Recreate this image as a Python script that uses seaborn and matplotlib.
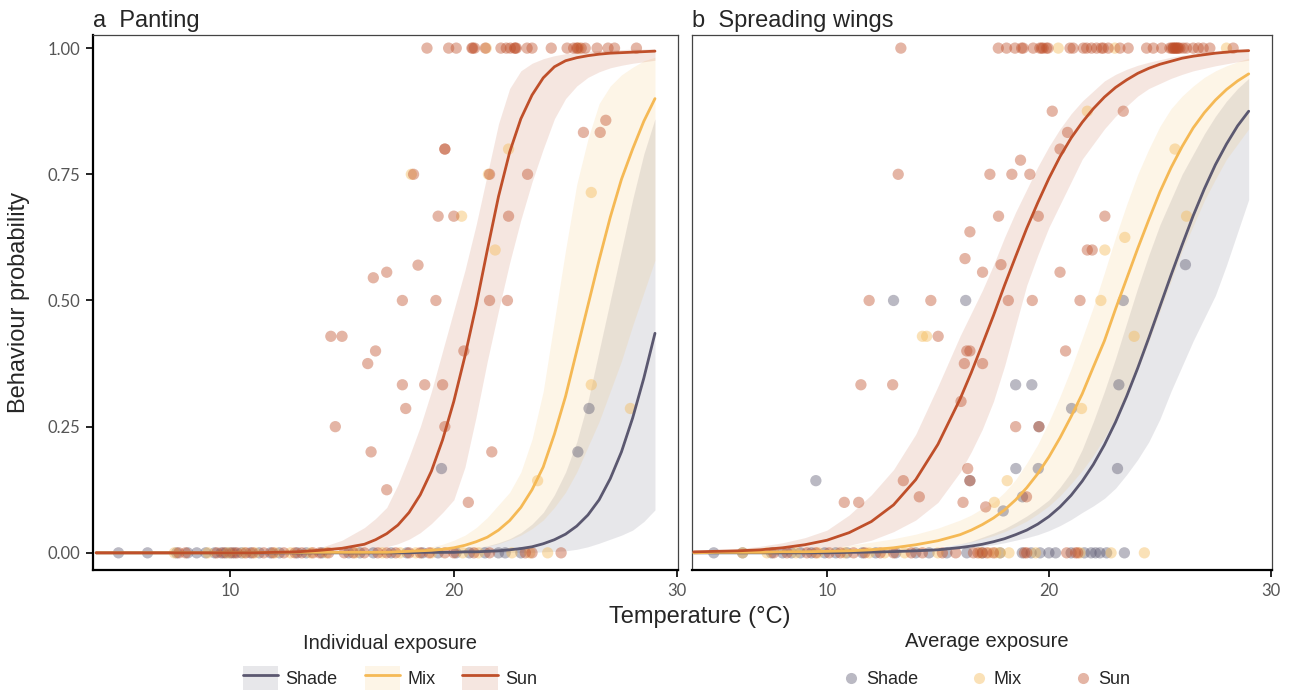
import pandas as pd
import seaborn as sns
import matplotlib.pyplot as plt
from matplotlib.patches import Patch
from matplotlib.lines import Line2D

# ---- fitted curves + 95% ribbons
# (whole degrees up to 16 C, then every half degree where the curves bend)
temps = [4, 5, 6, 7, 8, 9, 10, 11, 12, 13, 14, 15, 16,
         16.5, 17, 17.5, 18, 18.5, 19, 19.5, 20, 20.5, 21, 21.5, 22, 22.5,
         23, 23.5, 24, 24.5, 25, 25.5, 26, 26.5, 27, 27.5, 28, 28.5, 29]

# panel a: panting
pant_shade_fit = [0, 0, 0, 0, 0, 0, 0, 0, 0, 0, 0, 0, 0,
                  0, 0, 0, 0, 0.001, 0.001, 0.001, 0.001, 0.002, 0.002, 0.003, 0.004, 0.006,
                  0.0085, 0.012, 0.018, 0.026, 0.037, 0.053, 0.075, 0.105, 0.147, 0.20, 0.267, 0.346, 0.435]
pant_shade_lo = [0, 0, 0, 0, 0, 0, 0, 0, 0, 0, 0, 0, 0,
                 0, 0, 0, 0, 0, 0, 0, 0, 0, 0, 0, 0.001, 0.001,
                 0.001, 0.001, 0.002, 0.003, 0.004, 0.007, 0.012, 0.019, 0.027, 0.035, 0.045, 0.062, 0.085]
pant_shade_hi = [0, 0, 0, 0, 0, 0, 0, 0, 0, 0, 0, 0, 0,
                 0.001, 0.001, 0.0015, 0.002, 0.0025, 0.003, 0.004, 0.005, 0.007, 0.01, 0.014, 0.02, 0.028,
                 0.04, 0.057, 0.08, 0.115, 0.16, 0.22, 0.30, 0.40, 0.50, 0.60, 0.70, 0.79, 0.86]
pant_mix_fit = [0, 0, 0, 0, 0, 0, 0, 0, 0.001, 0.001, 0.001, 0.001, 0.001,
                0.001, 0.001, 0.002, 0.003, 0.004, 0.005, 0.007, 0.01, 0.015, 0.022, 0.031, 0.045, 0.064,
                0.09, 0.125, 0.17, 0.235, 0.31, 0.40, 0.49, 0.58, 0.665, 0.74, 0.80, 0.855, 0.90]
pant_mix_lo = [0, 0, 0, 0, 0, 0, 0, 0, 0, 0, 0, 0, 0,
               0, 0, 0.001, 0.001, 0.0015, 0.002, 0.003, 0.004, 0.006, 0.009, 0.013, 0.018, 0.026,
               0.035, 0.048, 0.065, 0.09, 0.12, 0.16, 0.21, 0.26, 0.32, 0.38, 0.45, 0.515, 0.58]
pant_mix_hi = [0, 0, 0, 0, 0, 0, 0, 0, 0, 0, 0.001, 0.001, 0.001,
               0.002, 0.003, 0.004, 0.006, 0.009, 0.012, 0.017, 0.025, 0.035, 0.05, 0.07, 0.095, 0.12,
               0.16, 0.225, 0.32, 0.46, 0.60, 0.73, 0.82, 0.89, 0.925, 0.947, 0.962, 0.975, 0.982]
pant_sun_fit = [0, 0, 0, 0, 0, 0, 0, 0, 0.001, 0.002, 0.005, 0.009, 0.017,
                0.026, 0.038, 0.055, 0.08, 0.115, 0.162, 0.224, 0.30, 0.39, 0.49, 0.60, 0.706, 0.794,
                0.86, 0.907, 0.941, 0.963, 0.975, 0.981, 0.985, 0.988, 0.99, 0.991, 0.992, 0.993, 0.994]
pant_sun_lo = [0, 0, 0, 0, 0, 0, 0, 0, 0, 0, 0, 0.002, 0.005,
               0.008, 0.012, 0.018, 0.027, 0.04, 0.058, 0.08, 0.105, 0.17, 0.27, 0.38, 0.48, 0.575,
               0.66, 0.735, 0.80, 0.86, 0.90, 0.925, 0.942, 0.953, 0.961, 0.966, 0.97, 0.973, 0.976]
pant_sun_hi = [0, 0, 0, 0, 0, 0, 0, 0, 0.002, 0.004, 0.01, 0.025, 0.05,
               0.068, 0.09, 0.135, 0.19, 0.25, 0.32, 0.40, 0.48, 0.56, 0.65, 0.75, 0.85, 0.92,
               0.955, 0.97, 0.979, 0.985, 0.989, 0.992, 0.994, 0.995, 0.996, 0.997, 0.998, 0.998, 0.999]

# panel b: spreading wings
wing_shade_fit = [0, 0, 0, 0, 0, 0, 0, 0.001, 0.0015, 0.0024, 0.004, 0.006, 0.0105,
                  0.0134, 0.017, 0.022, 0.028, 0.036, 0.045, 0.057, 0.072, 0.091, 0.114, 0.142, 0.175, 0.214,
                  0.259, 0.31, 0.366, 0.426, 0.488, 0.55, 0.61, 0.668, 0.721, 0.769, 0.81, 0.846, 0.875]
wing_shade_lo = [0, 0, 0, 0, 0, 0, 0, 0, 0, 0.001, 0.003, 0.005, 0.008,
                 0.01, 0.013, 0.016, 0.02, 0.025, 0.03, 0.036, 0.044, 0.054, 0.066, 0.08, 0.093, 0.108,
                 0.128, 0.155, 0.185, 0.22, 0.265, 0.32, 0.37, 0.42, 0.465, 0.51, 0.57, 0.635, 0.70]
wing_shade_hi = [0.001, 0.001, 0.001, 0.001, 0.001, 0.001, 0.002, 0.002, 0.002, 0.004, 0.006, 0.01, 0.018,
                 0.023, 0.031, 0.039, 0.048, 0.06, 0.073, 0.088, 0.105, 0.13, 0.16, 0.205, 0.26, 0.32,
                 0.385, 0.455, 0.525, 0.59, 0.65, 0.70, 0.75, 0.79, 0.83, 0.865, 0.895, 0.92, 0.94]
wing_mix_fit = [0, 0.001, 0.001, 0.001, 0.002, 0.002, 0.003, 0.004, 0.006, 0.01, 0.016, 0.024, 0.036,
                0.045, 0.056, 0.069, 0.085, 0.105, 0.129, 0.157, 0.19, 0.228, 0.27, 0.315, 0.368, 0.42,
                0.483, 0.543, 0.603, 0.66, 0.715, 0.763, 0.805, 0.842, 0.872, 0.897, 0.918, 0.935, 0.949]
wing_mix_lo = [0.001, 0.001, 0.001, 0.001, 0.001, 0.001, 0.001, 0.002, 0.003, 0.005, 0.008, 0.012, 0.018,
               0.022, 0.028, 0.034, 0.042, 0.052, 0.063, 0.077, 0.093, 0.113, 0.137, 0.163, 0.193, 0.228,
               0.268, 0.313, 0.363, 0.418, 0.478, 0.538, 0.598, 0.648, 0.698, 0.74, 0.78, 0.81, 0.84]
wing_mix_hi = [0.002, 0.002, 0.003, 0.004, 0.005, 0.007, 0.01, 0.015, 0.021, 0.028, 0.037, 0.049, 0.065,
               0.075, 0.088, 0.10, 0.12, 0.145, 0.178, 0.215, 0.26, 0.31, 0.365, 0.425, 0.487, 0.555,
               0.625, 0.69, 0.75, 0.80, 0.845, 0.88, 0.905, 0.925, 0.942, 0.955, 0.965, 0.973, 0.98]
wing_sun_fit = [0.002, 0.003, 0.004, 0.006, 0.01, 0.016, 0.025, 0.04, 0.062, 0.095, 0.145, 0.215, 0.305,
                0.357, 0.413, 0.47, 0.53, 0.587, 0.643, 0.694, 0.742, 0.785, 0.822, 0.853, 0.88, 0.903,
                0.922, 0.937, 0.95, 0.96, 0.968, 0.974, 0.98, 0.984, 0.987, 0.99, 0.992, 0.994, 0.995]
wing_sun_lo = [0.001, 0.001, 0.002, 0.003, 0.004, 0.006, 0.009, 0.015, 0.025, 0.042, 0.065, 0.10, 0.16,
               0.20, 0.245, 0.30, 0.37, 0.45, 0.53, 0.59, 0.645, 0.69, 0.735, 0.78, 0.81, 0.84,
               0.865, 0.885, 0.905, 0.92, 0.93, 0.94, 0.948, 0.955, 0.96, 0.965, 0.969, 0.973, 0.976]
wing_sun_hi = [0.003, 0.005, 0.008, 0.013, 0.02, 0.03, 0.045, 0.075, 0.115, 0.165, 0.235, 0.33, 0.43,
               0.475, 0.52, 0.57, 0.625, 0.675, 0.72, 0.765, 0.805, 0.84, 0.87, 0.895, 0.915, 0.935,
               0.948, 0.958, 0.966, 0.972, 0.977, 0.982, 0.986, 0.989, 0.991, 0.993, 0.995, 0.997, 0.998]

# ---- observed proportions per exposure group
pant_shade_zero = [5.0, 6.3, 7.6, 8.1, 8.5, 8.9, 9.3, 9.6, 9.8, 10.0, 10.2, 10.5, 10.9,
                   11.3, 11.8, 12.2, 13.0, 13.4, 14.1, 15.3, 15.8, 16.4, 17.2, 17.9,
                   18.6, 19.3, 20.1, 20.7, 21.4, 22.0, 22.3, 23.0]
pant_mix_zero = [7.5, 9.0, 9.9, 10.6, 11.1, 12.0, 12.7, 13.6, 14.3, 15.6, 16.8, 17.6,
                 18.3, 19.0, 20.4, 21.1, 22.6, 23.4, 24.2]
pant_sun_zero = [7.7, 8.0, 9.4, 9.7, 10.1, 10.3, 10.7, 11.0, 11.5, 11.9, 12.4, 12.9,
                 13.2, 13.7, 14.0, 14.4, 15.1, 15.5, 16.0, 16.6, 17.0, 17.4, 18.0,
                 18.5, 18.9, 19.6, 20.0, 20.9, 21.6, 23.2, 23.5, 24.8]
pant_mix_one = [21.45, 25.6]
pant_sun_one = [18.8, 19.77, 20.11, 20.81, 20.85, 20.93, 21.41, 22.11, 22.35, 22.53,
                22.72, 22.75, 22.8, 23.28, 23.5, 24.36, 25.07, 25.36, 25.5, 25.54,
                25.7, 25.88, 26.41, 26.9, 27.19, 28.17]
pant_shade_t = [19.45, 26.05, 25.55]
pant_shade_p = [0.167, 0.286, 0.2]
pant_mix_t = [22.45, 18.1, 21.55, 20.35, 21.85, 26.15, 26.15, 27.9, 23.75]
pant_mix_p = [0.80, 0.75, 0.75, 0.667, 0.6, 0.714, 0.333, 0.286, 0.143]
pant_sun_t = [19.6, 19.6, 18.2, 21.6, 23.3, 19.3, 20.0, 22.45, 18.4, 17.0, 16.4, 17.7,
              19.2, 21.6, 22.4, 26.8, 25.8, 26.55, 16.5, 20.45, 17.7, 18.7, 19.5,
              17.85, 19.6, 21.7, 17.0, 20.65, 14.5, 15.0, 16.15, 14.7, 16.3]
pant_sun_p = [0.80, 0.80, 0.75, 0.75, 0.75, 0.667, 0.667, 0.667, 0.57, 0.556, 0.545, 0.5,
              0.5, 0.5, 0.5, 0.857, 0.833, 0.833, 0.4, 0.4, 0.333, 0.333, 0.333,
              0.286, 0.25, 0.2, 0.125, 0.1, 0.429, 0.429, 0.375, 0.25, 0.2]

wing_shade_zero = [4.9, 6.2, 7.5, 8.0, 8.4, 8.8, 9.3, 9.9, 10.4, 10.9, 11.6, 12.2, 13.1,
                   14.0, 14.6, 15.4, 16.3, 17.0, 17.8, 18.8, 19.2, 19.6, 20.0, 20.3,
                   21.0, 21.6, 21.9, 22.1, 22.3, 22.6, 23.4]
wing_mix_zero = [6.2, 7.3, 8.6, 9.6, 10.8, 11.9, 12.6, 13.5, 15.0, 16.9, 17.3, 17.6,
                 17.8, 18.2, 19.4, 21.4, 22.8, 24.3]
wing_sun_zero = [7.6, 8.2, 9.1, 9.5, 10.1, 10.6, 11.2, 11.7, 12.4, 13.0, 13.8, 14.3,
                 15.2, 15.8, 16.6, 16.8, 17.0, 17.2, 17.5, 18.9, 19.0, 20.8, 21.2, 21.3]
wing_mix_one = [20.42, 22.97, 28.0]
wing_sun_one = [13.33, 17.72, 18.09, 18.47, 18.77, 18.84, 19.29, 19.59, 19.67, 19.74,
                19.89, 19.96, 20.95, 21.09, 21.55, 21.7, 21.92, 22.15, 22.37, 22.45,
                22.67, 23.2, 23.57, 24.4, 24.7, 25.08, 25.45, 25.53, 25.6, 25.6, 25.68,
                25.7, 25.75, 25.8, 25.83, 25.9, 26.05, 26.2, 26.5, 26.73, 26.95, 27.25, 28.3]
wing_shade_t = [26.15, 13.0, 16.25, 23.35, 18.5, 19.23, 23.15, 21.02, 19.55, 18.51,
                19.52, 23.09, 9.5, 17.94, 18.81, 16.44]
wing_shade_p = [0.571, 0.5, 0.5, 0.5, 0.333, 0.333, 0.333, 0.286, 0.25, 0.167,
                0.167, 0.167, 0.143, 0.083, 0.111, 0.143]
wing_mix_t = [21.73, 25.68, 26.2, 23.42, 22.52, 22.34, 14.3, 14.49, 23.84, 21.47, 18.12, 17.54]
wing_mix_p = [0.875, 0.8, 0.667, 0.625, 0.6, 0.5, 0.429, 0.429, 0.429, 0.286, 0.143, 0.1]
wing_sun_t = [20.15, 23.35, 20.84, 20.5, 13.21, 17.34, 18.33, 19.14, 18.72, 17.73, 19.52,
              22.52, 16.44, 16.22, 17.84, 17.01, 21.73, 21.95, 20.5, 11.9, 14.68, 18.17,
              19.25, 21.4, 15.01, 16.44, 16.3, 16.19, 17.01, 20.75, 11.53, 12.96, 16.04,
              18.5, 19.55, 16.34, 16.44, 13.44, 10.78, 11.43, 14.16, 16.13, 17.15, 18.99]
wing_sun_p = [0.875, 0.875, 0.833, 0.8, 0.75, 0.75, 0.75, 0.75, 0.778, 0.667, 0.667,
              0.667, 0.636, 0.583, 0.571, 0.556, 0.6, 0.6, 0.556, 0.5, 0.5, 0.5,
              0.5, 0.5, 0.429, 0.4, 0.4, 0.375, 0.375, 0.4, 0.333, 0.333, 0.3,
              0.25, 0.25, 0.167, 0.143, 0.143, 0.1, 0.1, 0.111, 0.1, 0.091, 0.111]

groups = ['Shade', 'Mix', 'Sun']
palette = {'Shade': '#5b5870', 'Mix': '#f5b955', 'Sun': '#bf4f2a'}

# long tables for seaborn
curves = {
    'a': {'Shade': (pant_shade_fit, pant_shade_lo, pant_shade_hi),
          'Mix': (pant_mix_fit, pant_mix_lo, pant_mix_hi),
          'Sun': (pant_sun_fit, pant_sun_lo, pant_sun_hi)},
    'b': {'Shade': (wing_shade_fit, wing_shade_lo, wing_shade_hi),
          'Mix': (wing_mix_fit, wing_mix_lo, wing_mix_hi),
          'Sun': (wing_sun_fit, wing_sun_lo, wing_sun_hi)},
}
rows = []
for panel, d in curves.items():
    for g, (fit, lo, hi) in d.items():
        for t, f, l, h in zip(temps, fit, lo, hi):
            rows.append((panel, g, t, f, l, h))
fits = pd.DataFrame(rows, columns=['panel', 'exposure', 'temp', 'fit', 'lo', 'hi'])

obs = {
    'a': {'Shade': (pant_shade_zero, [], pant_shade_t, pant_shade_p),
          'Mix': (pant_mix_zero, pant_mix_one, pant_mix_t, pant_mix_p),
          'Sun': (pant_sun_zero, pant_sun_one, pant_sun_t, pant_sun_p)},
    'b': {'Shade': (wing_shade_zero, [], wing_shade_t, wing_shade_p),
          'Mix': (wing_mix_zero, wing_mix_one, wing_mix_t, wing_mix_p),
          'Sun': (wing_sun_zero, wing_sun_one, wing_sun_t, wing_sun_p)},
}
rows = []
for panel, d in obs.items():
    for g, (zero, one, tt, pp) in d.items():
        rows += [(panel, g, t, 0.0) for t in zero]
        rows += [(panel, g, t, 1.0) for t in one]
        rows += [(panel, g, t, p) for t, p in zip(tt, pp)]
points = pd.DataFrame(rows, columns=['panel', 'exposure', 'temp', 'prob'])

sns.set_theme(style="white")
plt.rcParams['font.family'] = ['Liberation Sans', 'DejaVu Sans']

fig = plt.figure(figsize=(12.94, 6.92), dpi=100)
W, H = 1294, 692
ax_a = fig.add_axes([93 / W, 1 - 570 / H, 585 / W, 535 / H])
ax_b = fig.add_axes([692 / W, 1 - 570 / H, 580 / W, 535 / H])

for ax, panel, title, xlim in [(ax_a, 'a', 'a  Panting', (3.86, 30.03)),
                               (ax_b, 'b', 'b  Spreading wings', (3.92, 30.05))]:
    f = fits[fits.panel == panel]
    for g in groups:
        fg = f[f.exposure == g]
        ax.fill_between(fg.temp, fg.lo, fg.hi, color=palette[g], alpha=0.14,
                        lw=0, zorder=1)
    sns.scatterplot(data=points[points.panel == panel], x='temp', y='prob',
                    hue='exposure', hue_order=groups, palette=palette, alpha=0.42,
                    s=66, linewidth=0, legend=False, ax=ax, zorder=2)
    sns.lineplot(data=f, x='temp', y='fit', hue='exposure', hue_order=groups,
                 palette=palette, linewidth=2.0, legend=False, ax=ax, zorder=3)
    ax.set_xlim(*xlim)
    ax.set_ylim(-0.034, 1.026)
    ax.set_xticks([10, 20, 30])
    ax.set_yticks([0, 0.25, 0.5, 0.75, 1.0])
    ax.set_yticklabels(['0.00', '0.25', '0.50', '0.75', '1.00'])
    ax.set_xlabel('')
    ax.set_ylabel('')
    ax.set_title(title, loc='left', fontsize=17, pad=6)
    for s in ax.spines.values():
        s.set_color('#444444')
        s.set_linewidth(0.9)
    ax.spines['bottom'].set_color('black')
    ax.spines['bottom'].set_linewidth(1.6)
    ax.tick_params(axis='x', bottom=True, length=5, width=1.2, color='black',
                   labelsize=12, labelcolor='#555555', pad=4)
    for lab in ax.get_xticklabels():
        lab.set_family('Lato')

ax_a.spines['left'].set_color('black')
ax_a.spines['left'].set_linewidth(1.6)
ax_a.tick_params(axis='y', left=True, length=5, width=1.2, color='black',
                 labelsize=12, labelcolor='#555555', pad=4)
for lab in ax_a.get_yticklabels():
    lab.set_family('Lato')
ax_b.tick_params(axis='y', left=False, labelleft=False)

ax_a.set_ylabel('Behaviour probability', fontsize=17, va='center')
ax_a.yaxis.set_label_coords((19 - 93) / 585, 0.5)
fig.text(700 / W, 1 - 617 / H, 'Temperature (°C)', ha='center', va='center', fontsize=17)

# legends
h1 = [(Patch(facecolor=palette[g], alpha=0.14, lw=0),
       Line2D([], [], color=palette[g], lw=2.0)) for g in groups]
fig.legend(h1, groups, title='Individual exposure', loc='center',
           bbox_to_anchor=(390 / W, 1 - 662 / H), ncol=3, frameon=False,
           fontsize=13, title_fontsize=14.5, handlelength=1.95, handleheight=1.65,
           handletextpad=0.4, columnspacing=1.5, labelspacing=0.72)
h2 = [Line2D([], [], marker='o', ls='', color=palette[g], alpha=0.42, markersize=8,
             markeredgewidth=0) for g in groups]
fig.legend(h2, groups, title='Average exposure', loc='center',
           bbox_to_anchor=(987 / W, 1 - 660 / H), ncol=3, frameon=False,
           fontsize=13, title_fontsize=14.5, handlelength=0.8,
           handletextpad=0.4, columnspacing=3.0, labelspacing=1.1)

fig.savefig('out.png', dpi=100)
